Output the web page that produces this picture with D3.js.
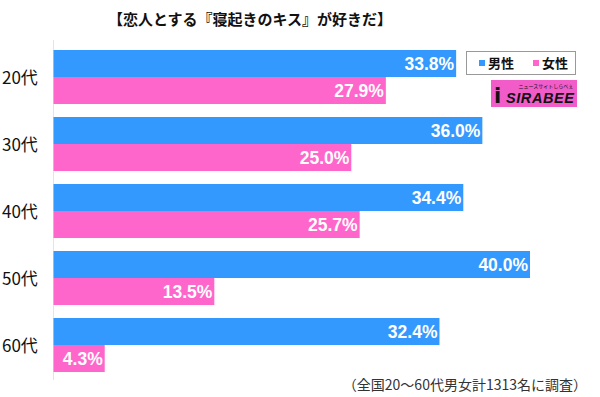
<!DOCTYPE html>
<html>
<head>
<meta charset="utf-8">
<script src="https://cdn.jsdelivr.net/npm/d3@7"></script>
<style>
  body { margin: 0; background: #fff; }
  svg { display: block; }
</style>
</head>
<body>
<div id="chart"></div>
<script>
var ages = ["20代", "30代", "40代", "50代", "60代"];
var sexes = ["男性", "女性"];
var male = [33.8, 36.0, 34.4, 40.0, 32.4];
var female = [27.9, 25.0, 25.7, 13.5, 4.3];
var colours = ["#3399ff", "#ff66cc"];

var width = 600, height = 397;
var jpFont = "'Noto Sans CJK JP', 'Noto Sans', sans-serif";

function drawChart(){
	var svg = d3.select("#chart").append("svg")
		.attr("width", width)
		.attr("height", height);

	var xScale = d3.scaleLinear()
		.domain([0, 40])
		.range([53.5, 530]);

	var yScale = d3.scaleBand()
		.domain(ages)
		.range([50, 372])
		.paddingInner(0.194)
		.paddingOuter(0);

	var ySub = d3.scaleBand()
		.domain(sexes)
		.range([0, yScale.bandwidth()]);

	// title
	svg.append("text")
		.attr("x", 250)
		.attr("y", 25)
		.attr("text-anchor", "middle")
		.attr("font-family", jpFont)
		.attr("font-weight", "bold")
		.attr("font-size", 15)
		.attr("fill", "#111")
		.text("【恋人とする『寝起きのキス』が好きだ】");

	// axis line
	svg.append("line")
		.attr("x1", 53.5).attr("x2", 53.5)
		.attr("y1", 40).attr("y2", 380)
		.attr("stroke", "#e4e4e4")
		.attr("stroke-width", 1);

	var rows = ages.map(function(a, i){
		return { age: a, values: [male[i], female[i]] };
	});

	var group = svg.append("g")
		.selectAll("g")
		.data(rows)
		.enter()
		.append("g")
		.attr("transform", function(d){ return "translate(0," + yScale(d.age) + ")"; });

	// category labels
	group.append("text")
		.attr("x", 2)
		.attr("y", yScale.bandwidth() / 2 + 1)
		.attr("dy", "0.36em")
		.attr("font-family", jpFont)
		.attr("font-size", 17)
		.attr("fill", "#111")
		.text(function(d){ return d.age; });

	var bar = group.selectAll("g.bar")
		.data(function(d){ return d.values.map(function(v, j){ return { sex: sexes[j], v: v, c: colours[j] }; }); })
		.enter()
		.append("g")
		.attr("class", "bar");

	bar.append("rect")
		.attr("x", xScale(0))
		.attr("y", function(d){ return ySub(d.sex); })
		.attr("width", function(d){ return xScale(d.v) - xScale(0); })
		.attr("height", ySub.bandwidth())
		.attr("fill", function(d){ return d.c; });

	bar.append("text")
		.attr("x", function(d){ return xScale(d.v) - 2; })
		.attr("y", function(d){ return ySub(d.sex) + ySub.bandwidth() / 2; })
		.attr("dy", "0.37em")
		.attr("text-anchor", "end")
		.attr("font-family", "'Liberation Sans', Arial, sans-serif")
		.attr("font-weight", "bold")
		.attr("font-size", 17.5)
		.attr("fill", "#fff")
		.text(function(d){ return d.v.toFixed(1) + "%"; });

	// legend
	var legend = svg.append("g");
	legend.append("rect")
		.attr("x", 466.5).attr("y", 51.5)
		.attr("width", 109).attr("height", 23)
		.attr("fill", "#fff")
		.attr("stroke", "#999")
		.attr("stroke-width", 1);
	var legX = [479, 533];
	sexes.forEach(function(s, j){
		legend.append("rect")
			.attr("x", legX[j]).attr("y", 60)
			.attr("width", 6).attr("height", 6)
			.attr("fill", colours[j]);
		legend.append("text")
			.attr("x", legX[j] + 9)
			.attr("y", 63)
			.attr("dy", "0.36em")
			.attr("font-family", jpFont)
			.attr("font-weight", "bold")
			.attr("font-size", 13)
			.attr("fill", "#111")
			.text(s);
	});

	// logo
	var logo = svg.append("g");
	logo.append("rect")
		.attr("x", 491).attr("y", 80)
		.attr("width", 86).attr("height", 27)
		.attr("fill", "#f25cc8");
	logo.append("text")
		.attr("x", 494).attr("y", 103)
		.attr("font-family", "'DejaVu Sans', sans-serif")
		.attr("font-weight", "bold")
		.attr("font-size", 21)
		.attr("fill", "#111")
		.text("i");
	logo.append("text")
		.attr("x", 506).attr("y", 103)
		.attr("font-family", "'Liberation Sans', Arial, sans-serif")
		.attr("font-weight", "bold")
		.attr("font-style", "italic")
		.attr("font-size", 14.5)
		.attr("textLength", 68)
		.attr("fill", "#111")
		.text("SIRABEE");
	logo.append("text")
		.attr("x", 546).attr("y", 88)
		.attr("text-anchor", "middle")
		.attr("font-family", jpFont)
		.attr("font-size", 5)
		.attr("fill", "#111")
		.text("ニュースサイトしらべぇ");

	// footnote
	svg.append("text")
		.attr("x", 587)
		.attr("y", 390)
		.attr("text-anchor", "end")
		.attr("font-family", jpFont)
		.attr("font-size", 14)
		.attr("fill", "#333")
		.text("（全国20～60代男女計1313名に調査）");
}

drawChart();
</script>
</body>
</html>
